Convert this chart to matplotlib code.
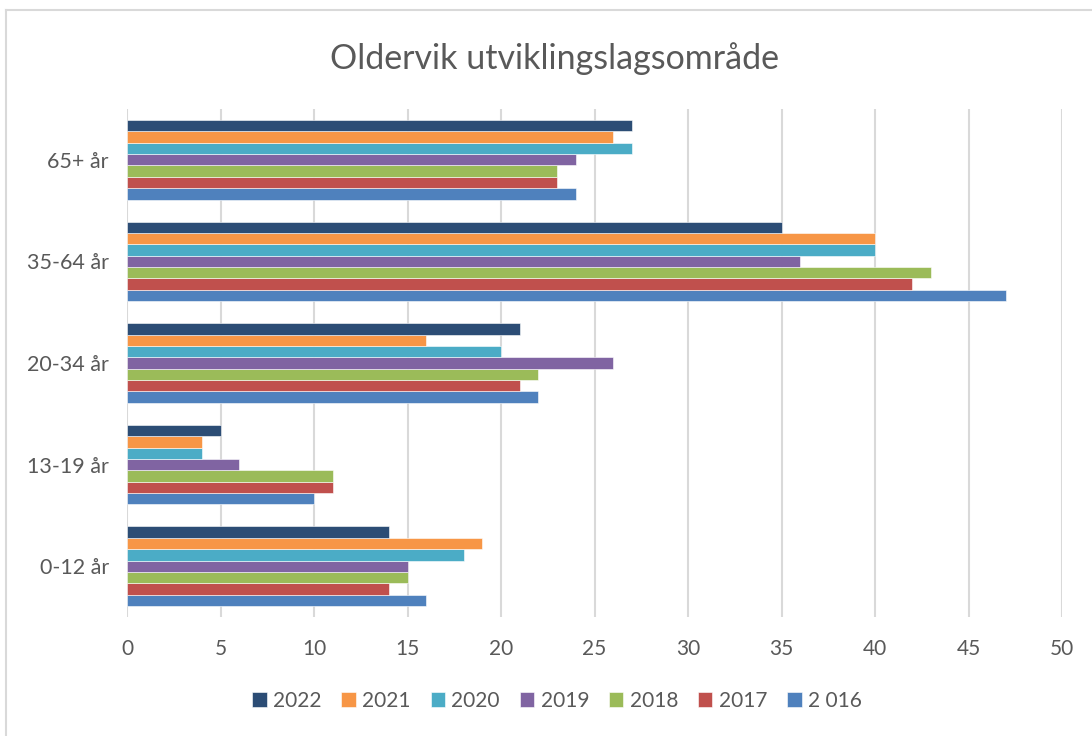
import numpy as np
import matplotlib.pyplot as plt
from matplotlib.lines import Line2D

plt.rcParams['font.family'] = ['Lato', 'DejaVu Sans']

# data
kategorier = ["0-12 år", "13-19 år", "20-34 år", "35-64 år", "65+ år"]
aar = ["2 016", "2017", "2018", "2019", "2020", "2021", "2022"]
v2016 = [16, 10, 22, 47, 24]
v2017 = [14, 11, 21, 42, 23]
v2018 = [15, 11, 22, 43, 23]
v2019 = [15, 6, 26, 36, 24]
v2020 = [18, 4, 20, 40, 27]
v2021 = [19, 4, 16, 40, 26]
v2022 = [14, 5, 21, 35, 27]
serier = [v2016, v2017, v2018, v2019, v2020, v2021, v2022]
farger = ["#4F81BD", "#C0504D", "#9BBB59", "#8064A2", "#4BACC6", "#F79646", "#2C4D75"]

fig = plt.figure(figsize=(10.92, 7.36), dpi=100)
ax = fig.add_axes([127/1092, 1-617/736, (1062-127)/1092, (617-109)/736])

y = np.arange(len(kategorier))
h = 0.112
n = len(serier)
for i, (s, c, lab) in enumerate(zip(serier, farger, aar)):
    ax.barh(y + (i - (n-1)/2)*h, s, height=h, color=c, edgecolor='white',
            linewidth=0.4, label=lab, zorder=3)

ax.set_xlim(0, 50)
ax.set_ylim(-0.5, 4.5)
ax.set_xticks(np.arange(0, 51, 5))
ax.set_yticks(y)
ax.set_yticklabels(kategorier)
ax.grid(axis='x', color='#D9D9D9', linewidth=1.5, zorder=0)
for sp in ax.spines.values():
    sp.set_visible(False)
ax.tick_params(length=0, labelsize=15, colors='#595959')
ax.tick_params(axis='x', pad=16)
ax.tick_params(axis='y', labelsize=15.5, pad=13)

fig.text(555/1092, 1-59/736, "Oldervik utviklingslagsområde", ha='center', va='center',
         fontsize=24.5, color='#595959')

# legend, reversed order (2022 first)
handles, labels = ax.get_legend_handles_labels()
fig.legend(handles[::-1], labels[::-1], loc='center', bbox_to_anchor=(557/1092, 1-701/736),
           ncol=7, frameon=False, fontsize=15, labelcolor='#595959',
           handlelength=0.7, handleheight=0.7, handletextpad=0.3, columnspacing=0.95)

# chart border (left and top visible)
fig.add_artist(Line2D([6/1092, 6/1092], [0, 1-10/736], color='#D9D9D9', lw=1.5))
fig.add_artist(Line2D([6/1092, 1], [1-10/736, 1-10/736], color='#D9D9D9', lw=1.5))

fig.savefig("out.png", dpi=100)
